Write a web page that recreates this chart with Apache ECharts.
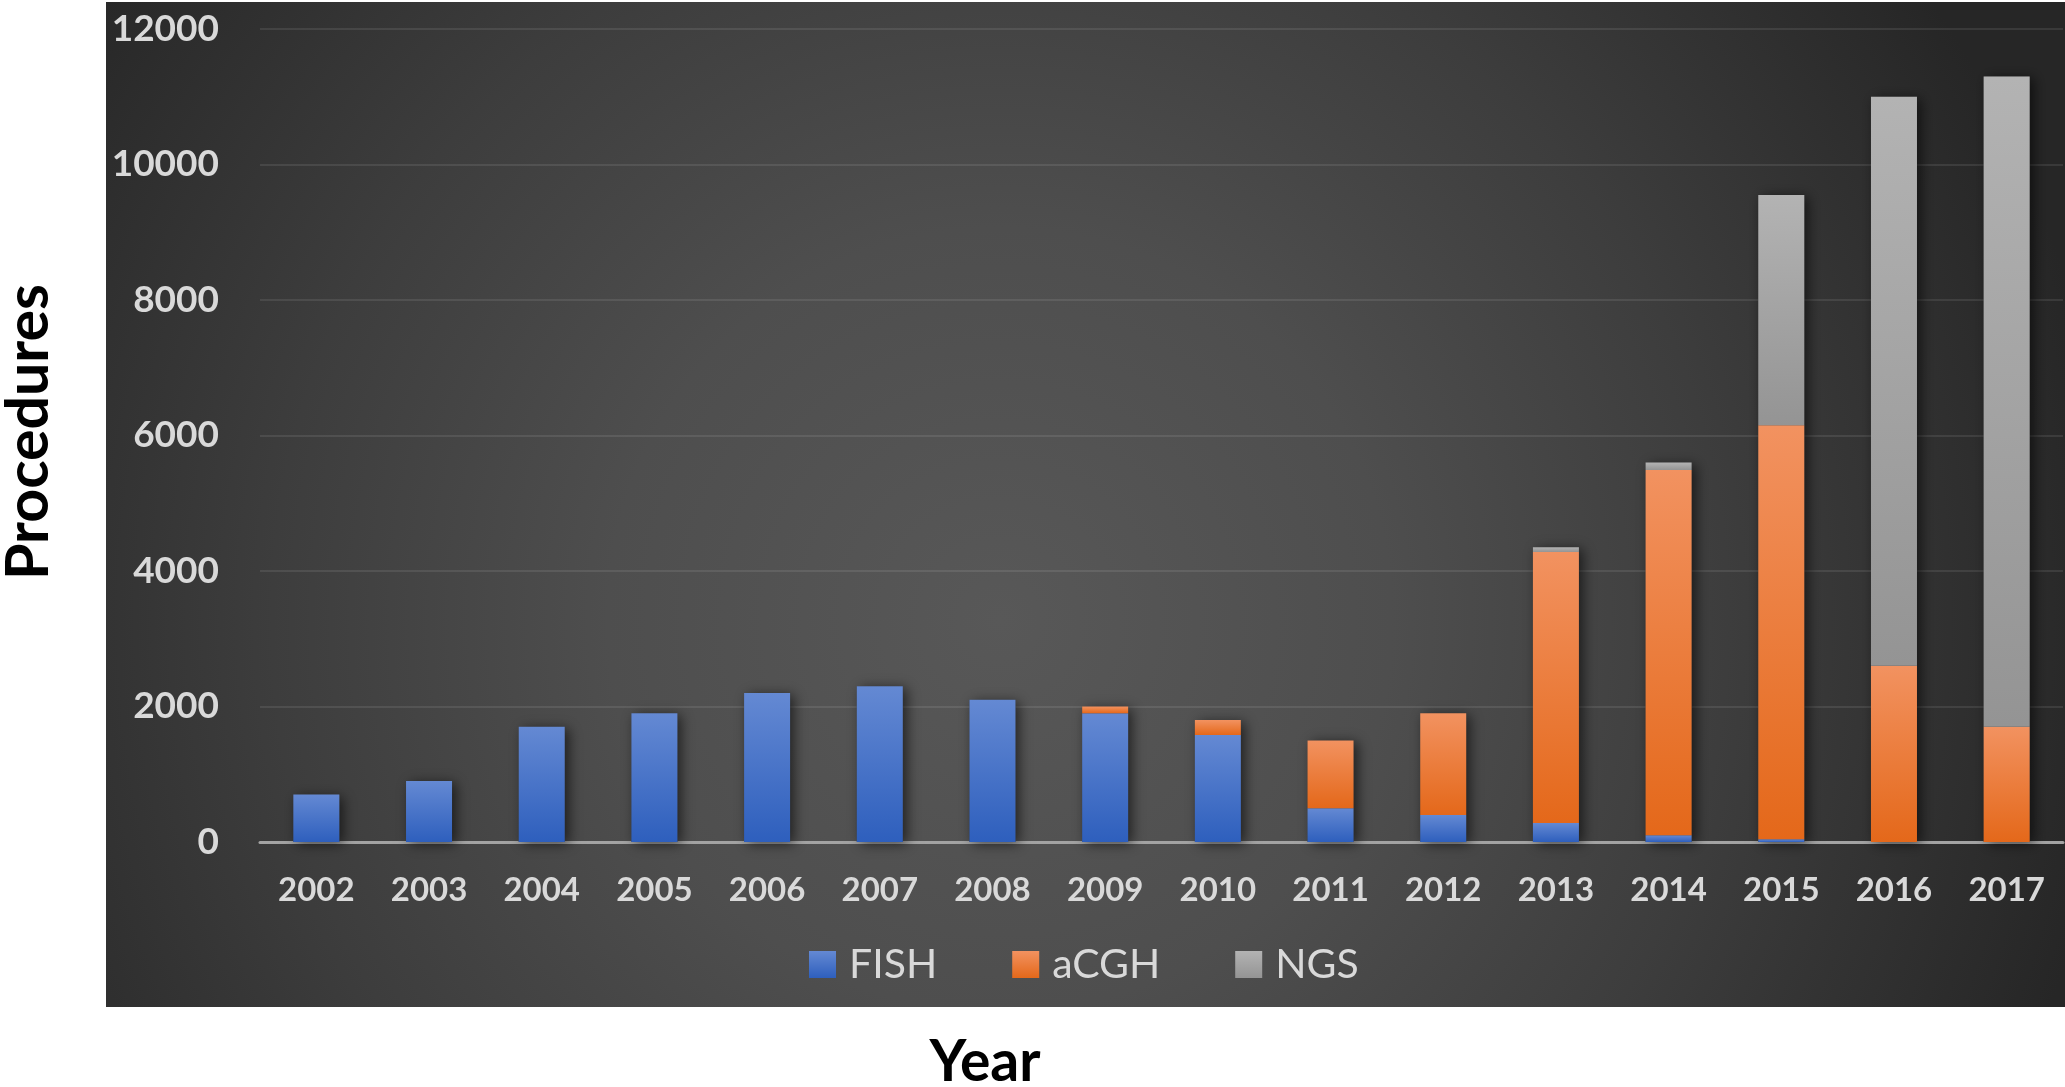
<!DOCTYPE html>
<html>
<head>
<meta charset="utf-8">
<title>Procedures by year</title>
<script src="https://cdn.jsdelivr.net/npm/echarts@6/dist/echarts.min.js"></script>
<style>
  html, body { margin: 0; padding: 0; background: #ffffff; }
  #chart { width: 2065px; height: 1087px; }
</style>
</head>
<body>
<div id="chart"></div>
<script>
// Procedures performed per year, split by technique
const years = ['2002', '2003', '2004', '2005', '2006', '2007', '2008', '2009',
               '2010', '2011', '2012', '2013', '2014', '2015', '2016', '2017'];
const fish = [700, 900, 1700, 1900, 2200, 2300, 2100, 1900, 1580, 500, 400, 280, 100, 40, 0, 0];
const acgh = [0, 0, 0, 0, 0, 0, 0, 100, 220, 1000, 1500, 4000, 5390, 6110, 2600, 1700];
const ngs  = [0, 0, 0, 0, 0, 0, 0, 0, 0, 0, 0, 70, 110, 3400, 8400, 9600];
const yTicks = { min: 0, max: 12000, step: 2000 };

// stacked height of each year, used for the drop shadow behind each column
const totals = years.map((_, i) => fish[i] + acgh[i] + ngs[i]);

const FONT = 'Lato, "Open Sans", sans-serif';
const LABEL = '#d9d9d9';

function vGrad(top, bottom) {
  return {
    type: 'linear', x: 0, y: 0, x2: 0, y2: 1,
    colorStops: [{ offset: 0, color: top }, { offset: 1, color: bottom }]
  };
}

const chart = echarts.init(document.getElementById('chart'), null, { renderer: 'canvas' });

const stackSeries = (name, data, top, bottom) => ({
  name, type: 'bar', stack: 'total', data,
  barWidth: 46, barGap: '-100%', z: 3,
  itemStyle: { color: vGrad(top, bottom) },
  emphasis: { disabled: true }
});

chart.setOption({
  animation: false,
  backgroundColor: '#ffffff',
  textStyle: { fontFamily: FONT },
  graphic: [
    {
      type: 'rect', z: -10, silent: true,
      shape: { x: 106, y: 2, width: 1959, height: 1005 },
      style: {
        fill: {
          type: 'radial', global: true, x: 1000, y: 620, r: 1120,
          colorStops: [
            { offset: 0, color: '#585858' },
            { offset: 0.35, color: '#4e4e4e' },
            { offset: 0.65, color: '#3d3d3d' },
            { offset: 1, color: '#262626' }
          ]
        }
      }
    },
    {
      type: 'text', z: 10, silent: true,
      x: 29, y: 432, rotation: Math.PI / 2,
      style: {
        text: 'Procedures', fill: '#000000',
        font: 'bold 59px ' + FONT, align: 'center', verticalAlign: 'middle'
      }
    },
    {
      type: 'text', z: 10, silent: true,
      x: 985, y: 1063,
      style: {
        text: 'Year', fill: '#000000',
        font: 'bold 57px ' + FONT, align: 'center', verticalAlign: 'middle'
      }
    }
  ],
  grid: { left: 260, right: 2, top: 29, bottom: 245, containLabel: false },
  legend: {
    data: ['FISH', 'aCGH', 'NGS'],
    left: 804, top: 939,
    icon: 'rect', itemWidth: 27, itemHeight: 27, itemGap: 75,
    textStyle: { color: LABEL, fontSize: 41, fontFamily: FONT, padding: [0, 0, 0, 8] },
    selectedMode: false
  },
  xAxis: {
    type: 'category', data: years,
    axisLine: { show: true, lineStyle: { color: '#a3a3a3', width: 3 } },
    axisTick: { show: false },
    axisLabel: { color: LABEL, fontSize: 33, fontWeight: 'bold', fontFamily: FONT, margin: 32 },
    splitLine: { show: false }
  },
  yAxis: {
    type: 'value', min: yTicks.min, max: yTicks.max, interval: yTicks.step,
    axisLine: { show: false },
    axisTick: { show: false },
    axisLabel: {
      color: LABEL, fontSize: 37, fontWeight: 'bold', fontFamily: FONT, margin: 41,
      formatter: v => String(v)
    },
    splitLine: { lineStyle: { color: 'rgba(255,255,255,0.09)', width: 2 } }
  },
  series: [
    {
      name: 'shadow', type: 'bar', data: totals,
      barWidth: 46, barGap: '-100%', z: 2, silent: true,
      itemStyle: {
        color: '#3a3a3a',
        shadowBlur: 12, shadowColor: 'rgba(0,0,0,0.6)', shadowOffsetX: 4, shadowOffsetY: 2
      },
      emphasis: { disabled: true }
    },
    stackSeries('FISH', fish, '#6489d3', '#2e5fbd'),
    stackSeries('aCGH', acgh, '#f29260', '#e4681a'),
    stackSeries('NGS', ngs, '#b3b3b3', '#949494')
  ]
});
</script>
</body>
</html>
